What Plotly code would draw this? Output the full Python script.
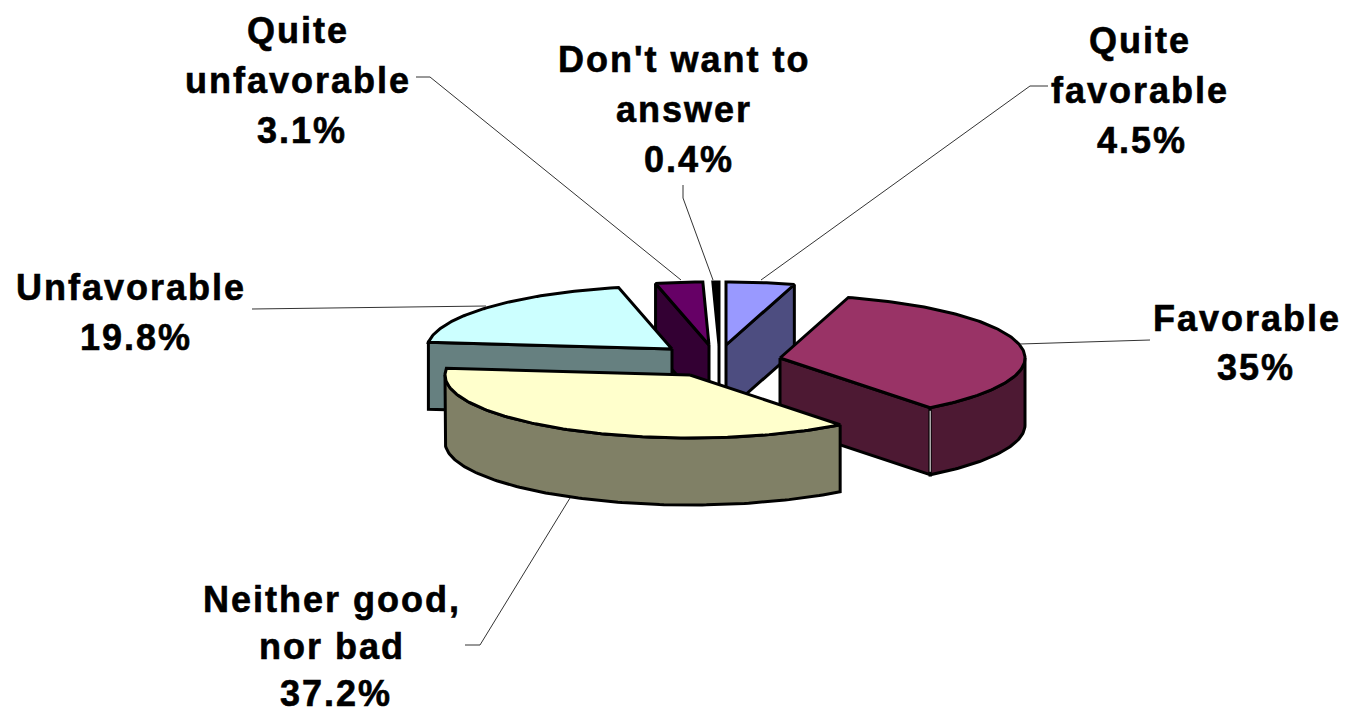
import math
import plotly.graph_objects as go

# ---- data ----
categories = ["Quite favorable", "Favorable", "Neither good, nor bad", "Unfavorable", "Quite unfavorable", "Don't want to answer"]
values = [4.5, 35, 37.2, 19.8, 3.1, 0.4]
label_lines = [["Quite", "favorable"], ["Favorable"], ["Neither good,", "nor bad"], ["Unfavorable"], ["Quite", "unfavorable"], ["Don't want to", "answer"]]
top_colors = ["#9999ff", "#993366", "#ffffcc", "#ccffff", "#660066", "#000000"]
wall_colors = ["#4d4d80", "#4d1933", "#808066", "#668080", "#330033", "#000000"]

# ---- layout of the tilted, exploded pie (pixels of the page) ----
W, H = 1346, 707
RX, RY, DEPTH = 245, 63, 67
apex = [(726, 345), (780, 358), (690, 375), (672, 349), (709, 345), (719, 345)]
draw_order = [4, 5, 0, 3, 1, 2]
label_pos = [(1140, 40), (1247, 318), (332, 599), (131, 287), (298, 30), (684, 59)]
line_step = [50, 49, 47, 50, 50, 50]
percent_shift = [2, 9, 4, 5, 4, 5]
leaders = [
    ([1048, 1030, 761], [86, 86, 280]),
    ([1150, 1020], [340, 344]),
    ([465, 480, 570], [645, 645, 498]),
    ([252, 486], [309, 306]),
    ([416, 430, 681], [77, 77, 280]),
    ([683, 683, 713], [185, 198, 280]),
]
STROKE = dict(color="#000000", width=3)

total = sum(values)
cum = [0]
for v in values:
    cum.append(cum[-1] + v)


def rim(i, deg):
    a = math.radians(deg)
    return apex[i][0] + RX * math.sin(a), apex[i][1] - RY * math.cos(a)


def arc(i, d0, d1):
    n = max(2, int(abs(d1 - d0)) + 2)
    return [rim(i, d0 + (d1 - d0) * k / (n - 1)) for k in range(n)]


fig = go.Figure()


def poly(points, fill, name):
    xs = [p[0] for p in points] + [points[0][0]]
    ys = [p[1] for p in points] + [points[0][1]]
    fig.add_trace(go.Scatter(x=xs, y=ys, mode="lines", fill="toself", fillcolor=fill,
                             line=STROKE, name=name, hoverinfo="name", showlegend=False))


for i in draw_order:
    d0 = cum[i] / total * 360
    d1 = cum[i + 1] / total * 360
    ax, ay = apex[i]
    name = categories[i]
    wall = wall_colors[i]
    if name.startswith("Don't"):
        # the sliver only shows its inner edge below the top face
        fig.add_trace(go.Scatter(x=[ax, ax], y=[ay, ay + DEPTH], mode="lines", line=STROKE,
                                 name=name, hoverinfo="name", showlegend=False))
    else:
        # radial faces that look towards the viewer
        if d0 > 180:
            sx, sy = rim(i, d0)
            poly([(ax, ay), (sx, sy), (sx, sy + DEPTH), (ax, ay + DEPTH)], wall, name)
        if d1 < 180:
            ex, ey = rim(i, d1)
            poly([(ax, ay), (ex, ey), (ex, ey + DEPTH), (ax, ay + DEPTH)], wall, name)
        # outer wall: only the front half of the rim is visible
        lo, hi = max(d0, 90), min(d1, 270)
        if hi > lo:
            front = arc(i, lo, hi)
            poly(front + [(x, y + DEPTH) for x, y in reversed(front)], wall, name)
    poly([(ax, ay)] + arc(i, d0, d1), top_colors[i], name)
    if name == "Favorable":
        ex, ey = rim(i, d1)
        fig.add_trace(go.Scatter(x=[ex, ex], y=[ey + 3, ey + DEPTH - 3], mode="lines",
                                 line=dict(color="#ffffff", width=1), hoverinfo="skip", showlegend=False))

for lx, ly in leaders:
    fig.add_trace(go.Scatter(x=lx, y=ly, mode="lines", line=dict(color="#333333", width=1),
                             hoverinfo="skip", showlegend=False))

annotations = []
for i, lines in enumerate(label_lines):
    cx, cy = label_pos[i]
    rows = lines + [f"{values[i]:g}%"]
    for k, row in enumerate(rows):
        shift = percent_shift[i] if k == len(rows) - 1 else 0
        annotations.append(dict(x=cx + shift, y=cy + k * line_step[i], xref="x", yref="y", text=f"<b>{row}</b>",
                                showarrow=False, xanchor="center", yanchor="middle",
                                font=dict(family="Liberation Sans", size=36, color="#000000")))

fig.update_layout(
    width=W, height=H, margin=dict(l=0, r=0, t=0, b=0),
    paper_bgcolor="#ffffff", plot_bgcolor="#ffffff", showlegend=False,
    xaxis=dict(range=[0, W], visible=False, fixedrange=True),
    yaxis=dict(range=[H, 0], visible=False, fixedrange=True),
    annotations=annotations,
)

post = """
document.body.style.margin='0';
document.querySelectorAll('.annotation-text').forEach(function(t){t.style.letterSpacing='2px';t.style.stroke='#000';t.style.strokeWidth='0.6px';});
"""
fig.write_html("out.html", post_script=post, config={"displayModeBar": False})
